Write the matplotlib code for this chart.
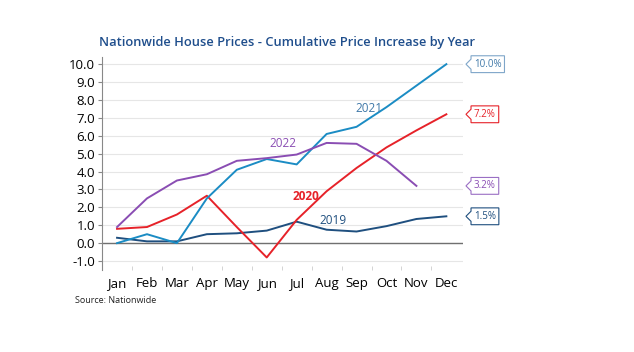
import numpy as np
import matplotlib
matplotlib.use("Agg")
import matplotlib.pyplot as plt
from matplotlib.path import Path

months = ["Jan", "Feb", "Mar", "Apr", "May", "Jun", "Jul", "Aug", "Sep", "Oct", "Nov", "Dec"]
y2019 = [0.3, 0.1, 0.1, 0.5, 0.55, 0.7, 1.2, 0.75, 0.65, 0.95, 1.35, 1.5]
y2020 = [0.8, 0.9, 1.6, 2.65, 0.9, -0.8, 1.3, 2.9, 4.2, 5.35, 6.3, 7.2]
y2021 = [0.0, 0.5, 0.0, 2.5, 4.1, 4.7, 4.4, 6.1, 6.5, 7.6, 8.8, 10.0]
y2022 = [0.9, 2.5, 3.5, 3.85, 4.6, 4.75, 4.95, 5.6, 5.55, 4.6, 3.2]
end_labels = ["1.5%", "7.2%", "10.0%", "3.2%"]

c2019 = "#1f4f7f"
c2020 = "#e62229"
c2021 = "#1b8cc4"
c2022 = "#8a4db3"

plt.rcParams["font.family"] = ["Open Sans", "DejaVu Sans"]

fig = plt.figure(figsize=(6.34, 3.52), dpi=100)
ax = fig.add_axes([0.161, 0.233, 0.569, 0.605])

x = np.arange(len(months))
ax.plot(x, y2019, color=c2019, lw=1.4)
ax.plot(x, y2020, color=c2020, lw=1.4)
ax.plot(x, y2021, color=c2021, lw=1.4)
ax.plot(np.arange(len(y2022)), y2022, color=c2022, lw=1.4)

ax.set_xlim(-0.5, 11.55)
ax.set_ylim(-1.5, 10.4)
yt = np.arange(-1, 11)
ax.set_yticks(yt)
ax.set_yticklabels(["%.1f" % v for v in yt], fontsize=9.5)
ax.set_xticks(x)
ax.set_xticklabels(months, fontsize=9.5)
ax.set_xticks(x[:-1] + 0.5, minor=True)
ax.tick_params(axis="x", which="major", length=0, pad=5)
ax.tick_params(axis="x", which="minor", length=3, color="#cccccc", direction="in")
ax.tick_params(axis="y", length=3, color="#888888", pad=2)
for s in ["top", "right", "bottom"]:
    ax.spines[s].set_visible(False)
ax.spines["left"].set_color("#888888")
ax.grid(axis="y", color="#e6e6e6", lw=0.8)
ax.set_axisbelow(True)
ax.axhline(0, color="#707070", lw=1.0, zorder=1)

ax.text(8.4, 7.5, "2021", color="#3f78a8", fontsize=8.5, ha="center", va="center")
ax.text(5.55, 5.55, "2022", color=c2022, fontsize=8.5, ha="center", va="center")
ax.text(6.3, 2.6, "2020", color=c2020, fontsize=8.5, ha="center", va="center", fontweight="bold")
ax.text(7.2, 1.25, "2019", color=c2019, fontsize=8.5, ha="center", va="center")


def tag(x0, y0, width, height, mutation_size):
    # rectangle with a small notch pointing left
    p = 0.3 * mutation_size
    x0, y0 = x0 - p, y0 - p
    width, height = width + 2 * p, height + 2 * p
    n = height * 0.3
    xl = x0 - n
    verts = [(xl, y0 + height / 2), (x0, y0 + height / 2 + n),
             (x0, y0 + height), (x0 + width, y0 + height),
             (x0 + width, y0), (x0, y0), (x0, y0 + height / 2 - n),
             (xl, y0 + height / 2)]
    return Path(verts, closed=True)


ends = [y2019[-1], y2020[-1], y2021[-1], y2022[-1]]
cols = [c2019, c2020, "#3f78a8", c2022]
edges = ["#1f4f7f", "#e62229", "#7fa6c9", "#9a6fc4"]
for v, lab, c, e in zip(ends, end_labels, cols, edges):
    ax.annotate(lab, xy=(1.0, v), xycoords=("axes fraction", "data"),
                xytext=(8, 0), textcoords="offset points", ha="left", va="center",
                fontsize=7, color=c, annotation_clip=False,
                bbox=dict(boxstyle=tag, fc="white", ec=e, lw=0.8))

fig.text(0.452, 0.88, "Nationwide House Prices - Cumulative Price Increase by Year",
         color="#1f4e8c", fontsize=9.3, ha="center", va="center", fontweight="semibold")
fig.text(0.118, 0.147, "Source: Nationwide", fontsize=6.5, color="#222222", ha="left", va="center")

fig.savefig("out.png", dpi=100)
